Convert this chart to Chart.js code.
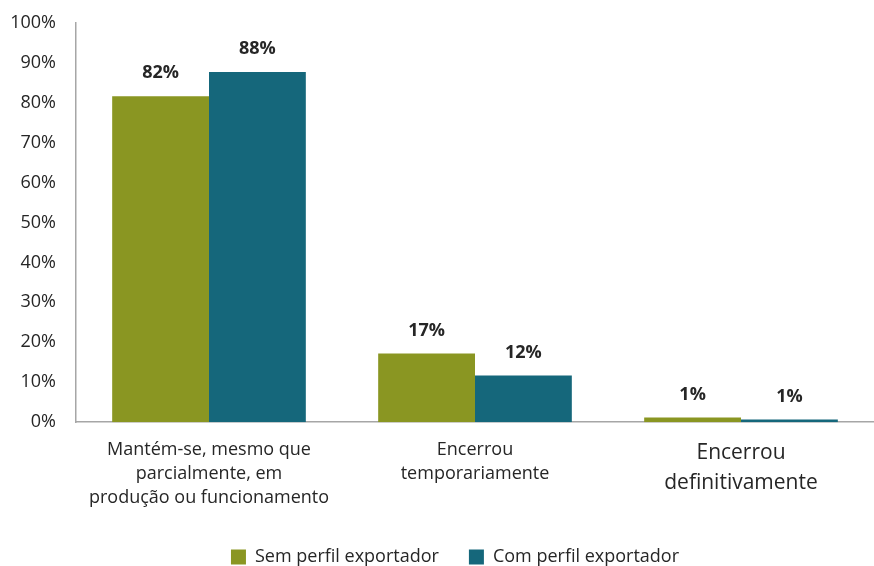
<!DOCTYPE html>
<html>
<head>
<meta charset="utf-8">
<script src="https://cdn.jsdelivr.net/npm/chart.js@4.4.0/dist/chart.umd.min.js"></script>
<style>
  html, body { margin: 0; padding: 0; background: #fff; }
  #wrap { width: 874px; height: 566px; }
</style>
</head>
<body>
<div id="wrap"><canvas id="myChart" width="874" height="566"></canvas></div>
<script>
const categories = [
    ['Mantém-se, mesmo que', 'parcialmente, em', 'produção ou funcionamento'],
    ['Encerrou', 'temporariamente'],
    ['Encerrou', 'definitivamente']
];
const semPerfil = [81.6, 17.2, 1.2];
const comPerfil = [87.7, 11.7, 0.7];
const yTicks = [0, 10, 20, 30, 40, 50, 60, 70, 80, 90, 100];

const FONT = "'Open Sans', 'Noto Sans', sans-serif";
const TEXT = '#262626';

const barLabels = {
    id: 'barLabels',
    afterDatasetsDraw(chart) {
        const ctx = chart.ctx;
        ctx.save();
        ctx.font = `bold 18px ${FONT}`;
        ctx.fillStyle = TEXT;
        ctx.textAlign = 'center';
        ctx.textBaseline = 'middle';
        chart.data.datasets.forEach((ds, i) => {
            chart.getDatasetMeta(i).data.forEach((bar, j) => {
                ctx.fillText(Math.round(ds.data[j]) + '%', bar.x, bar.y - 23);
            });
        });
        ctx.restore();
    }
};

// legend in the original sits a bit right of the canvas centre
const legendShift = {
    id: 'legendShift',
    afterLayout(chart) {
        chart.legend.left += 18;
        chart.legend.right += 18;
    }
};

const ctx = document.getElementById('myChart').getContext('2d');
new Chart(ctx, {
    type: 'bar',
    data: {
        labels: categories,
        datasets: [
            { label: 'Sem perfil exportador', data: semPerfil, backgroundColor: '#8a9622' },
            { label: 'Com perfil exportador', data: comPerfil, backgroundColor: '#15677b' }
        ]
    },
    options: {
        responsive: false,
        animation: false,
        datasets: { bar: { categoryPercentage: 0.728, barPercentage: 1.0 } },
        layout: { padding: { top: -5, left: 0, right: 0, bottom: -10 } },
        plugins: {
            legend: {
                position: 'bottom',
                labels: {
                    boxWidth: 15, boxHeight: 15, padding: 30,
                    color: TEXT, font: { family: FONT, size: 18 }
                }
            },
            tooltip: { enabled: false }
        },
        scales: {
            x: {
                grid: { display: false },
                border: { color: '#a6a6a6', width: 1.5 },
                ticks: {
                    color: TEXT,
                    padding: 8,
                    maxRotation: 0,
                    font: c => ({ family: FONT, size: c.index === 2 ? 21 : 18, lineHeight: c.index === 2 ? 1.43 : 1.33 })
                }
            },
            y: {
                min: 0, max: 100,
                afterBuildTicks: axis => { axis.ticks = yTicks.map(v => ({ value: v })); },
                afterFit: axis => { axis.width = 76; },
                grid: { display: false },
                border: { color: '#a6a6a6', width: 1.5 },
                ticks: {
                    color: TEXT,
                    padding: 12,
                    font: { family: FONT, size: 18 },
                    callback: v => v + '%'
                }
            }
        }
    },
    plugins: [barLabels, legendShift]
});
</script>
</body>
</html>
